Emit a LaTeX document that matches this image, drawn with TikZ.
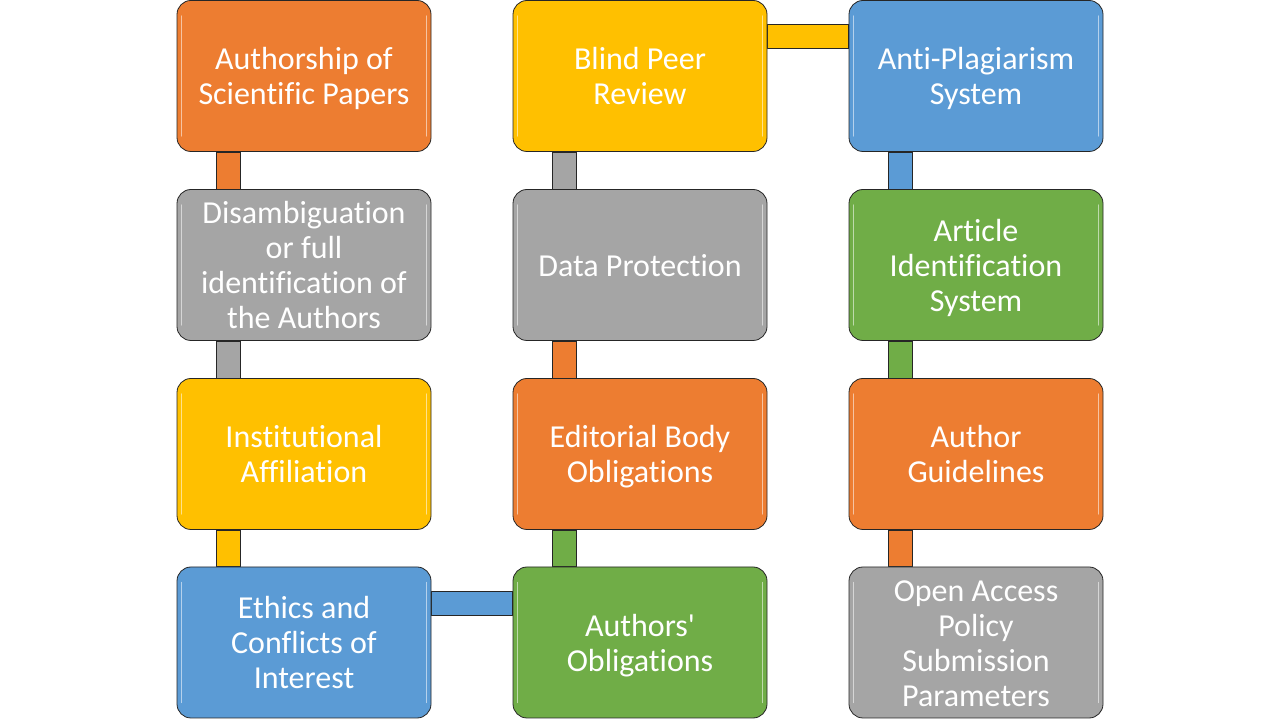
\documentclass[tikz,border=0pt]{standalone}
\usepackage{fontspec}
\newfontfamily\boxfont{Carlito}[Ligatures=NoCommon]
\setmainfont{Carlito}
\usetikzlibrary{backgrounds}
\definecolor{corange}{HTML}{ED7D31}
\definecolor{cgray}{HTML}{A5A5A5}
\definecolor{cyellow}{HTML}{FFC000}
\definecolor{cblue}{HTML}{5B9BD5}
\definecolor{cgreen}{HTML}{70AD47}
\newcommand\bxt[1]{\raisebox{0pt}[\dimexpr\height+9pt\relax][\depth]{\begin{tabular}{@{}c@{}}#1\end{tabular}}}
\begin{document}
\begin{tikzpicture}[x=1pt,y=1pt,
  box/.style={draw=black!85, line width=0.8pt, rounded corners=14pt,
    minimum width=254pt, minimum height=151pt, inner sep=0pt,
    text=white, font=\boxfont\fontsize{32}{35}\selectfont},
  bar/.style={draw=black!85, line width=0.7pt},
  gloss/.style={white, opacity=0.55, line width=1.6pt, line cap=round}]
\useasboundingbox (0,0) rectangle (1280,720);
% column 1
\node[box, fill=corange] (a1) at (304,644) {\bxt{Authorship of\\Scientific Papers}};
\node[box, fill=cgray]   (a2) at (304,455) {\bxt{Disambiguation\\or full\\identification of\\the Authors}};
\node[box, fill=cyellow] (a3) at (304,266) {\bxt{Institutional\\Affiliation}};
\node[box, fill=cblue]   (a4) at (304,77.5) {\bxt{Ethics and\\Conflicts of\\Interest}};
% column 2
\node[box, fill=cyellow] (b1) at (640,644) {\bxt{Blind Peer\\Review}};
\node[box, fill=cgray]   (b2) at (640,455) {\bxt{Data Protection}};
\node[box, fill=corange] (b3) at (640,266) {\bxt{Editorial Body\\Obligations}};
\node[box, fill=cgreen]  (b4) at (640,77.5) {\bxt{Authors'\\Obligations}};
% column 3
\node[box, fill=cblue]   (c1) at (976,644) {\bxt{Anti-Plagiarism\\System}};
\node[box, fill=cgreen]  (c2) at (976,455) {\bxt{Article\\Identification\\System}};
\node[box, fill=corange] (c3) at (976,266) {\bxt{Author\\Guidelines}};
\node[box, fill=cgray]   (c4) at (976,77.5) {\bxt{Open Access\\Policy\\Submission\\Parameters}};
% gloss highlights
\foreach \n in {a1,a2,a3,a4,b1,b2,b3,b4,c1,c2,c3,c4}{
  \draw[gloss] ([shift={(5,-16)}]\n.north west) -- ([shift={(5,16)}]\n.south west);
  \draw[gloss] ([shift={(-5,-16)}]\n.north east) -- ([shift={(-5,16)}]\n.south east);
}
% connectors
\begin{scope}[on background layer]
\filldraw[bar, fill=corange] ([xshift=40]a1.south west) rectangle ([xshift=64]a2.north west);
\filldraw[bar, fill=cgray]   ([xshift=40]a2.south west) rectangle ([xshift=64]a3.north west);
\filldraw[bar, fill=cyellow] ([xshift=40]a3.south west) rectangle ([xshift=64]a4.north west);
\filldraw[bar, fill=cblue]   ([yshift=-25]a4.north east) rectangle ([yshift=-49]b4.north west);
\filldraw[bar, fill=cgreen]  ([xshift=40]b4.north west) rectangle ([xshift=64]b3.south west);
\filldraw[bar, fill=corange] ([xshift=40]b3.north west) rectangle ([xshift=64]b2.south west);
\filldraw[bar, fill=cgray]   ([xshift=40]b2.north west) rectangle ([xshift=64]b1.south west);
\filldraw[bar, fill=cyellow] ([yshift=-24]b1.north east) rectangle ([yshift=-48]c1.north west);
\filldraw[bar, fill=cblue]   ([xshift=40]c1.south west) rectangle ([xshift=64]c2.north west);
\filldraw[bar, fill=cgreen]  ([xshift=40]c2.south west) rectangle ([xshift=64]c3.north west);
\filldraw[bar, fill=corange] ([xshift=40]c3.south west) rectangle ([xshift=64]c4.north west);
\end{scope}
\end{tikzpicture}
\end{document}
